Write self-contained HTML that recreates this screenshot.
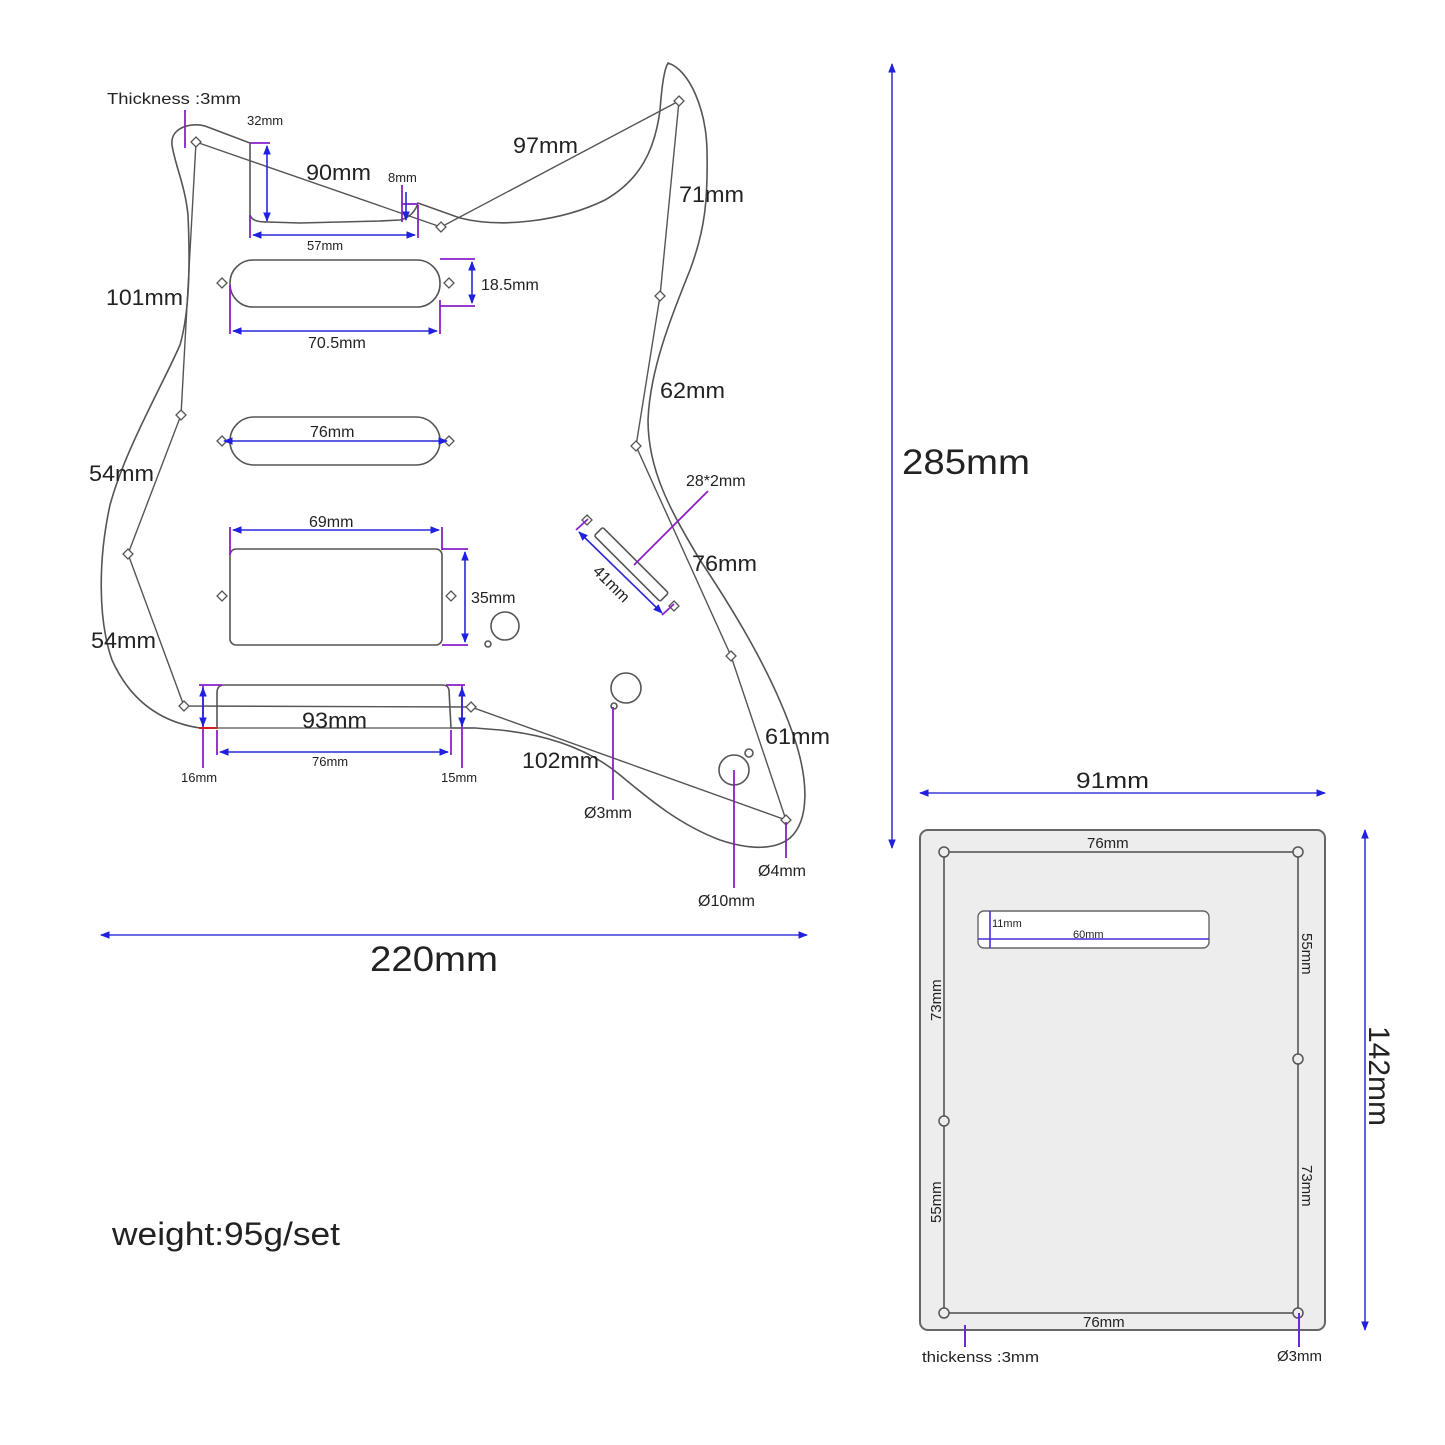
<!DOCTYPE html>
<html><head><meta charset="utf-8"><style>
html,body{margin:0;padding:0;background:#fff}
svg{display:block}
text{font-family:"Liberation Sans","DejaVu Sans",sans-serif;fill:#222}
</style></head><body>
<svg width="1445" height="1445" viewBox="0 0 1445 1445" xmlns="http://www.w3.org/2000/svg">
<defs>
<marker id="a" viewBox="0 0 10 10" refX="9" refY="5" markerWidth="6" markerHeight="6" orient="auto-start-reverse"><path d="M0,1 L10,5 L0,9 z" fill="#2020e0"/></marker>
</defs>
<rect width="1445" height="1445" fill="#fff"/>

<path d="M172,145 C170,128 190,122 205,126 L250,143 L250,215 C252,222 262,222 268,222 L300,223 L380,221 L400,220 C410,218 416,210 418,203 L460,218 C500,228 560,222 605,200 C640,180 655,150 660,110 C662,85 664,70 668,63 C690,70 706,110 707,150 C708,200 705,230 690,270 C670,320 650,370 648,420 C648,470 670,510 700,560 C740,620 775,680 795,740 C808,780 810,820 790,838 C775,850 750,850 720,840 C680,825 650,800 620,775 C590,750 550,735 500,730 L475,728 L451,728 L449,690 C448,686 446,685 442,685 L224,685 C219,685 217,688 217,693 L217,728 L200,728 C160,722 130,700 112,660 C98,620 98,560 110,505 C125,450 160,390 180,345 C190,310 190,260 188,215 C185,185 175,165 172,145 z" fill="none" stroke="#555" stroke-width="1.6"/>

<polyline points="196,142 441,227 679,101 660,296 636,446 731,656 786,820 471,707 184,706 128,554 181,415 196,142" fill="none" stroke="#555" stroke-width="1.4"/>
<line x1="217" y1="728" x2="475" y2="728" stroke="#555" stroke-width="1.2"/>

<g fill="#fff" stroke="#555" stroke-width="1.3">
<path d="M196,137 l5,5 -5,5 -5,-5z"/><path d="M441,222 l5,5 -5,5 -5,-5z"/><path d="M679,96 l5,5 -5,5 -5,-5z"/>
<path d="M660,291 l5,5 -5,5 -5,-5z"/><path d="M636,441 l5,5 -5,5 -5,-5z"/><path d="M731,651 l5,5 -5,5 -5,-5z"/>
<path d="M786,815 l5,5 -5,5 -5,-5z"/><path d="M471,702 l5,5 -5,5 -5,-5z"/><path d="M184,701 l5,5 -5,5 -5,-5z"/>
<path d="M128,549 l5,5 -5,5 -5,-5z"/><path d="M181,410 l5,5 -5,5 -5,-5z"/>
<path d="M222,278 l5,5 -5,5 -5,-5z"/><path d="M449,278 l5,5 -5,5 -5,-5z"/>
<path d="M222,436 l5,5 -5,5 -5,-5z"/><path d="M449,436 l5,5 -5,5 -5,-5z"/>
<path d="M222,591 l5,5 -5,5 -5,-5z"/><path d="M451,591 l5,5 -5,5 -5,-5z"/>
<path d="M587,515 l5,5 -5,5 -5,-5z"/><path d="M674,601 l5,5 -5,5 -5,-5z"/>
</g>

<g fill="#fff" stroke="#555" stroke-width="1.6">
<rect x="230" y="260" width="210" height="47" rx="23"/>
<rect x="230" y="417" width="210" height="48" rx="24"/>
<rect x="230" y="549" width="212" height="96" rx="6"/>
<rect x="625" y="518" width="12" height="93" transform="rotate(-45 631 564)" rx="2"/>
<circle cx="505" cy="626" r="14"/><circle cx="488" cy="644" r="3"/>
<circle cx="626" cy="688" r="15"/><circle cx="614" cy="706" r="3"/>
<circle cx="734" cy="770" r="15"/><circle cx="749" cy="753" r="4"/>
</g>

<g stroke="#8a1fc8" stroke-width="1.8" fill="none">
<line x1="185" y1="110" x2="185" y2="148"/>
<line x1="250" y1="143" x2="270" y2="143"/>
<line x1="250" y1="215" x2="250" y2="238"/><line x1="418" y1="205" x2="418" y2="238"/>
<line x1="402" y1="204" x2="418" y2="204"/><line x1="402" y1="185" x2="402" y2="222"/>
<line x1="440" y1="259" x2="475" y2="259"/><line x1="440" y1="306" x2="475" y2="306"/>
<line x1="230" y1="285" x2="230" y2="334"/><line x1="440" y1="300" x2="440" y2="334"/>
<line x1="230" y1="527" x2="230" y2="555"/><line x1="442" y1="527" x2="442" y2="550"/>
<line x1="442" y1="549" x2="468" y2="549"/><line x1="442" y1="645" x2="468" y2="645"/>
<line x1="199" y1="685" x2="222" y2="685"/><line x1="203" y1="685" x2="203" y2="768"/>
<line x1="217" y1="730" x2="217" y2="755"/><line x1="451" y1="730" x2="451" y2="755"/>
<line x1="446" y1="685" x2="465" y2="685"/><line x1="462" y1="685" x2="462" y2="768"/>
<line x1="576" y1="530" x2="588" y2="519"/><line x1="662" y1="615" x2="674" y2="604"/>
<line x1="634" y1="565" x2="708" y2="491"/>
<line x1="613" y1="707" x2="613" y2="800"/>
<line x1="734" y1="770" x2="734" y2="888"/>
<line x1="786" y1="822" x2="786" y2="858"/>
</g>
<line x1="199" y1="728" x2="217" y2="728" stroke="#d02020" stroke-width="2"/>
<g stroke="#2828d8" stroke-width="1.6" fill="none" marker-start="url(#a)" marker-end="url(#a)">
<line x1="267" y1="146" x2="267" y2="221"/>
<line x1="253" y1="235" x2="415" y2="235"/>
<line x1="406" y1="192" x2="406" y2="220" marker-start="none"/>
<line x1="472" y1="262" x2="472" y2="303"/>
<line x1="233" y1="331" x2="437" y2="331"/>
<line x1="224" y1="441" x2="447" y2="441"/>
<line x1="233" y1="530" x2="439" y2="530"/>
<line x1="465" y1="552" x2="465" y2="642"/>
<line x1="203" y1="688" x2="203" y2="726"/>
<line x1="220" y1="752" x2="448" y2="752"/>
<line x1="462" y1="688" x2="462" y2="726"/>
<line x1="579" y1="532" x2="662" y2="613"/>
</g>

<g stroke="#3a3ad8" stroke-width="1.6" marker-start="url(#a)" marker-end="url(#a)">
<line x1="892" y1="64" x2="892" y2="848"/>
<line x1="101" y1="935" x2="807" y2="935"/>
<line x1="920" y1="793" x2="1325" y2="793"/>
<line x1="1365" y1="830" x2="1365" y2="1330"/>
</g>

<g font-size="16"><text x="107" y="104" textLength="134" lengthAdjust="spacingAndGlyphs">Thickness :3mm</text></g>
<g font-size="13">
<text x="247" y="125">32mm</text><text x="388" y="182">8mm</text>
<text x="307" y="250">57mm</text><text x="181" y="782">16mm</text>
<text x="312" y="766">76mm</text><text x="441" y="782">15mm</text>
</g>
<g font-size="16">
<text x="481" y="290">18.5mm</text><text x="308" y="348">70.5mm</text>
<text x="310" y="437">76mm</text><text x="309" y="527">69mm</text>
<text x="471" y="603">35mm</text><text x="686" y="486">28*2mm</text>
<text x="584" y="818">Ø3mm</text><text x="758" y="876">Ø4mm</text><text x="698" y="906">Ø10mm</text>
<text x="0" y="0" transform="translate(592,572) rotate(45)">41mm</text>
</g>
<g font-size="22" lengthAdjust="spacingAndGlyphs">
<text x="306" y="180" textLength="65" lengthAdjust="spacingAndGlyphs">90mm</text><text x="513" y="153" textLength="65" lengthAdjust="spacingAndGlyphs">97mm</text>
<text x="679" y="202" textLength="65" lengthAdjust="spacingAndGlyphs">71mm</text><text x="106" y="305" textLength="77" lengthAdjust="spacingAndGlyphs">101mm</text>
<text x="660" y="398" textLength="65" lengthAdjust="spacingAndGlyphs">62mm</text><text x="89" y="481" textLength="65" lengthAdjust="spacingAndGlyphs">54mm</text>
<text x="692" y="571" textLength="65" lengthAdjust="spacingAndGlyphs">76mm</text><text x="91" y="648" textLength="65" lengthAdjust="spacingAndGlyphs">54mm</text>
<text x="302" y="728" textLength="65" lengthAdjust="spacingAndGlyphs">93mm</text><text x="522" y="768" textLength="77" lengthAdjust="spacingAndGlyphs">102mm</text>
<text x="765" y="744" textLength="65" lengthAdjust="spacingAndGlyphs">61mm</text><text x="1076" y="788" textLength="73" lengthAdjust="spacingAndGlyphs">91mm</text>
</g>
<text x="902" y="474" font-size="35" textLength="128" lengthAdjust="spacingAndGlyphs">285mm</text>
<text x="370" y="971" font-size="35" textLength="128" lengthAdjust="spacingAndGlyphs">220mm</text>
<text x="112" y="1245" font-size="32" textLength="228" lengthAdjust="spacingAndGlyphs">weight:95g/set</text>

<rect x="920" y="830" width="405" height="500" rx="8" fill="#ededed" stroke="#666" stroke-width="2"/>
<rect x="944" y="852" width="354" height="461" fill="none" stroke="#555" stroke-width="1.6"/>
<rect x="978" y="911" width="231" height="37" rx="6" fill="#fff" stroke="#666" stroke-width="1.4"/>
<line x1="978" y1="939" x2="1209" y2="939" stroke="#4a2ad8" stroke-width="1.6"/>
<line x1="990" y1="911" x2="990" y2="948" stroke="#4a2ad8" stroke-width="1.6"/>
<g fill="#ededed" stroke="#555" stroke-width="1.5">
<circle cx="944" cy="852" r="5"/><circle cx="1298" cy="852" r="5"/>
<circle cx="944" cy="1313" r="5"/><circle cx="1298" cy="1313" r="5"/>
<circle cx="944" cy="1121" r="5"/><circle cx="1298" cy="1059" r="5"/>
</g>
<line x1="965" y1="1325" x2="965" y2="1347" stroke="#6a2ad8" stroke-width="2"/>
<line x1="1299" y1="1313" x2="1299" y2="1347" stroke="#6a2ad8" stroke-width="2"/>
<g font-size="15">
<text x="1087" y="848">76mm</text><text x="1083" y="1327">76mm</text>
<text x="922" y="1362" textLength="117" lengthAdjust="spacingAndGlyphs">thickenss :3mm</text><text x="1277" y="1361">Ø3mm</text>
<text transform="translate(941,1021) rotate(-90)">73mm</text>
<text transform="translate(941,1223) rotate(-90)">55mm</text>
<text transform="translate(1302,933) rotate(90)">55mm</text>
<text transform="translate(1302,1165) rotate(90)">73mm</text>
</g>
<text x="992" y="927" font-size="11">11mm</text>
<text x="1073" y="938" font-size="11">60mm</text>
<text transform="translate(1369,1026) rotate(90)" font-size="30">142mm</text>
</svg>
</body></html>
